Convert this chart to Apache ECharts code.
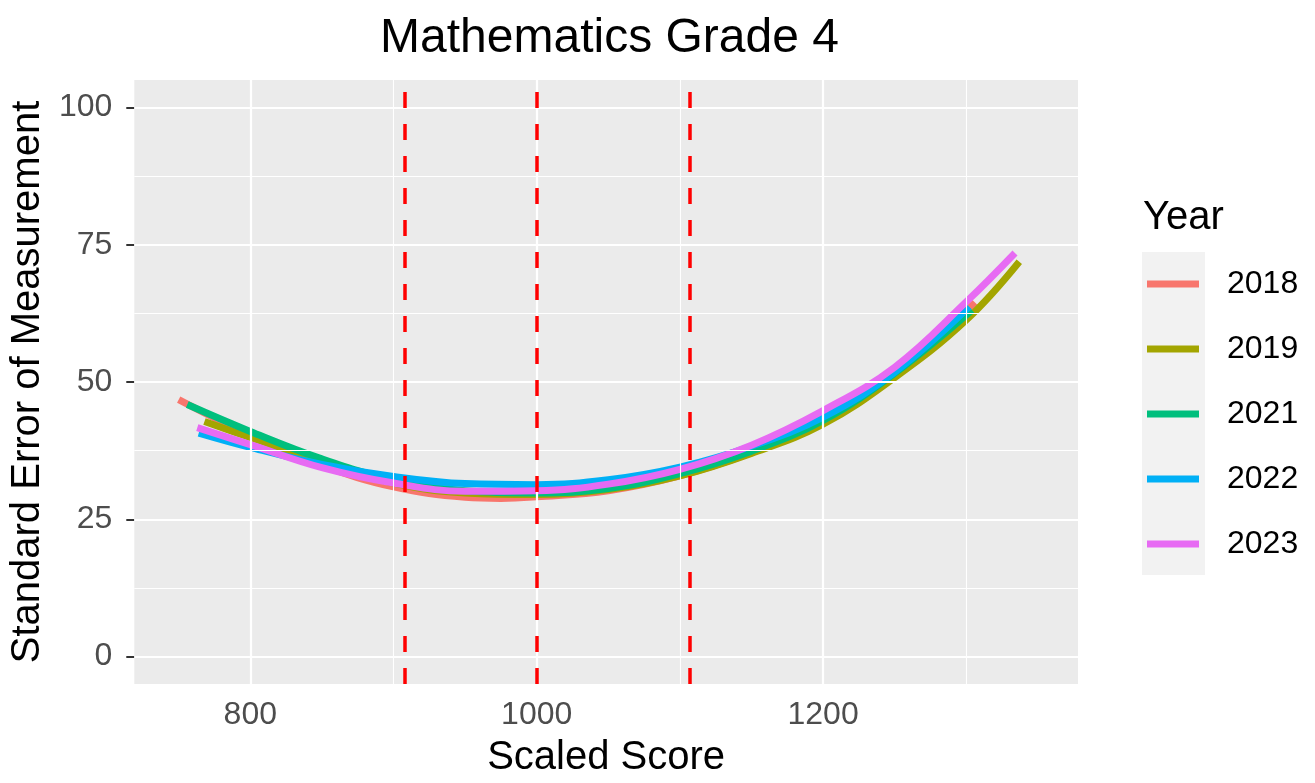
<!DOCTYPE html>
<html>
<head>
<meta charset="utf-8">
<script src="https://cdn.jsdelivr.net/npm/echarts@6.0.0/dist/echarts.min.js"></script>
<style>
html,body{margin:0;padding:0;background:#fff;}
#chart{width:1315px;height:783px;}
</style>
</head>
<body>
<div id="chart"></div>
<script>
// ---- data ----
const years = ['2018', '2019', '2021', '2022', '2023'];

const scores2018 = [750, 800, 850, 900, 950, 975, 1000, 1050, 1100, 1150, 1200, 1250, 1300, 1306];
const sem2018    = [46.8, 40.3, 34.8, 30.9, 29.0, 28.8, 29.1, 30.2, 32.9, 37.1, 42.7, 51.3, 63.0, 64.5];

const scores2019 = [768, 800, 850, 900, 950, 1000, 1050, 1100, 1150, 1200, 1250, 1300, 1337];
const sem2019    = [42.8, 39.9, 35.5, 31.6, 29.8, 29.5, 30.4, 32.9, 37.0, 42.3, 50.8, 61.3, 71.9];

const scores2021 = [756, 800, 850, 900, 950, 1000, 1050, 1100, 1150, 1200, 1250, 1304];
const sem2021    = [45.9, 41.0, 36.0, 32.2, 30.2, 29.8, 30.6, 33.3, 37.4, 43.0, 51.6, 63.1];

const scores2022 = [764, 800, 850, 900, 950, 1000, 1050, 1100, 1150, 1200, 1250, 1302];
const sem2022    = [40.7, 38.1, 35.0, 32.8, 31.5, 31.3, 32.2, 34.5, 38.3, 43.6, 51.8, 63.7];

const scores2023 = [763, 800, 850, 900, 950, 1000, 1050, 1100, 1150, 1200, 1250, 1300, 1334];
const sem2023    = [41.7, 38.6, 34.4, 31.6, 30.1, 30.2, 31.4, 34.1, 38.5, 44.8, 52.7, 64.6, 73.5];

const cutScores = [908, 1000, 1107];

const xTicks = [800, 1000, 1200];
const xMinorGrid = [900, 1100, 1300];
const yTicks = [0, 25, 50, 75, 100];
const yMinorGrid = [12.5, 37.5, 62.5, 87.5];

// ---- styles ----
const FONT = '"Liberation Sans", Arial, sans-serif';
const colors = ['#F8766D', '#A3A500', '#00BF7D', '#00B0F6', '#E76BF3'];

const seriesScores = [scores2018, scores2019, scores2021, scores2022, scores2023];
const seriesSem = [sem2018, sem2019, sem2021, sem2022, sem2023];

function pairs(xs, ys) { return xs.map((x, i) => [x, ys[i]]); }

const gridLines = [];
xTicks.forEach(v => gridLines.push({xAxis: v, lineStyle: {color: '#fff', width: 2.2, type: 'solid'}}));
xMinorGrid.forEach(v => gridLines.push({xAxis: v, lineStyle: {color: '#fff', width: 1.1, type: 'solid'}}));
yTicks.forEach(v => gridLines.push({yAxis: v, lineStyle: {color: '#fff', width: 2.2, type: 'solid'}}));
yMinorGrid.forEach(v => gridLines.push({yAxis: v, lineStyle: {color: '#fff', width: 1.1, type: 'solid'}}));

const series = [
  {
    name: 'grid', type: 'line', data: [], silent: true, z: 1,
    markLine: {silent: true, symbol: 'none', animation: false, label: {show: false},
      emphasis: {disabled: true}, data: gridLines}
  }
];
years.forEach((y, i) => {
  series.push({
    name: y, type: 'line', data: pairs(seriesScores[i], seriesSem[i]),
    smooth: 0.4, symbol: 'none', showSymbol: false, z: 2,
    color: colors[i],
    lineStyle: {color: colors[i], width: 7, cap: 'butt'},
    itemStyle: {color: colors[i]},
    emphasis: {disabled: true}
  });
});
series.push({
  name: 'cuts', type: 'line', data: [], silent: true, z: 10,
  markLine: {silent: true, symbol: 'none', animation: false, label: {show: false},
    emphasis: {disabled: true},
    lineStyle: {color: '#FF0000', width: 3.5, type: [16, 16]},
    data: cutScores.map(v => ({xAxis: v}))}
});

const chart = echarts.init(document.getElementById('chart'), null, {renderer: 'canvas'});
chart.setOption({
  animation: false,
  backgroundColor: '#ffffff',
  textStyle: {fontFamily: FONT},
  title: {
    text: 'Mathematics Grade 4', left: 604.5, top: 10, textAlign: 'center',
    textStyle: {fontSize: 48, fontWeight: 'normal', color: '#000', fontFamily: FONT}
  },
  grid: {left: 131, right: 237, top: 80, bottom: 94, show: true,
    backgroundColor: '#EBEBEB', borderWidth: 0, containLabel: false},
  xAxis: {
    type: 'value', min: 719, max: 1378,
    name: 'Scaled Score', nameLocation: 'middle', nameGap: 54,
    nameTextStyle: {fontSize: 40, color: '#000', fontFamily: FONT},
    axisLine: {show: false},
    axisTick: {show: true, length: 8, lineStyle: {color: '#333333', width: 2}, customValues: xTicks},
    axisLabel: {customValues: xTicks, fontSize: 32, color: '#4D4D4D', margin: 15, fontFamily: FONT,
      formatter: v => String(v)},
    splitLine: {show: false}
  },
  yAxis: {
    type: 'value', min: -5, max: 105,
    name: 'Standard Error of Measurement', nameLocation: 'middle', nameGap: 82,
    nameTextStyle: {fontSize: 40, color: '#000', fontFamily: FONT},
    axisLine: {show: false},
    axisTick: {show: true, length: 8, lineStyle: {color: '#333333', width: 2}, customValues: yTicks},
    axisLabel: {customValues: yTicks, fontSize: 32, color: '#4D4D4D', margin: 22, fontFamily: FONT,
      formatter: v => String(v)},
    splitLine: {show: false}
  },
  legend: {
    data: years, orient: 'vertical', left: 1147, top: 268, padding: 0,
    itemWidth: 52, itemHeight: 7, itemGap: 33, icon: 'rect',
    selectedMode: false,
    textStyle: {fontSize: 32, color: '#000', lineHeight: 32, padding: [0, 0, 0, 23], fontFamily: FONT}
  },
  graphic: [
    {type: 'rect', left: 1142, top: 252, z: -1, silent: true,
      shape: {width: 63, height: 323}, style: {fill: '#F2F2F2'}},
    {type: 'text', left: 1143, top: 198, silent: true,
      style: {text: 'Year', fontSize: 40, fill: '#000', fontFamily: FONT}}
  ],
  series: series
});
</script>
</body>
</html>
